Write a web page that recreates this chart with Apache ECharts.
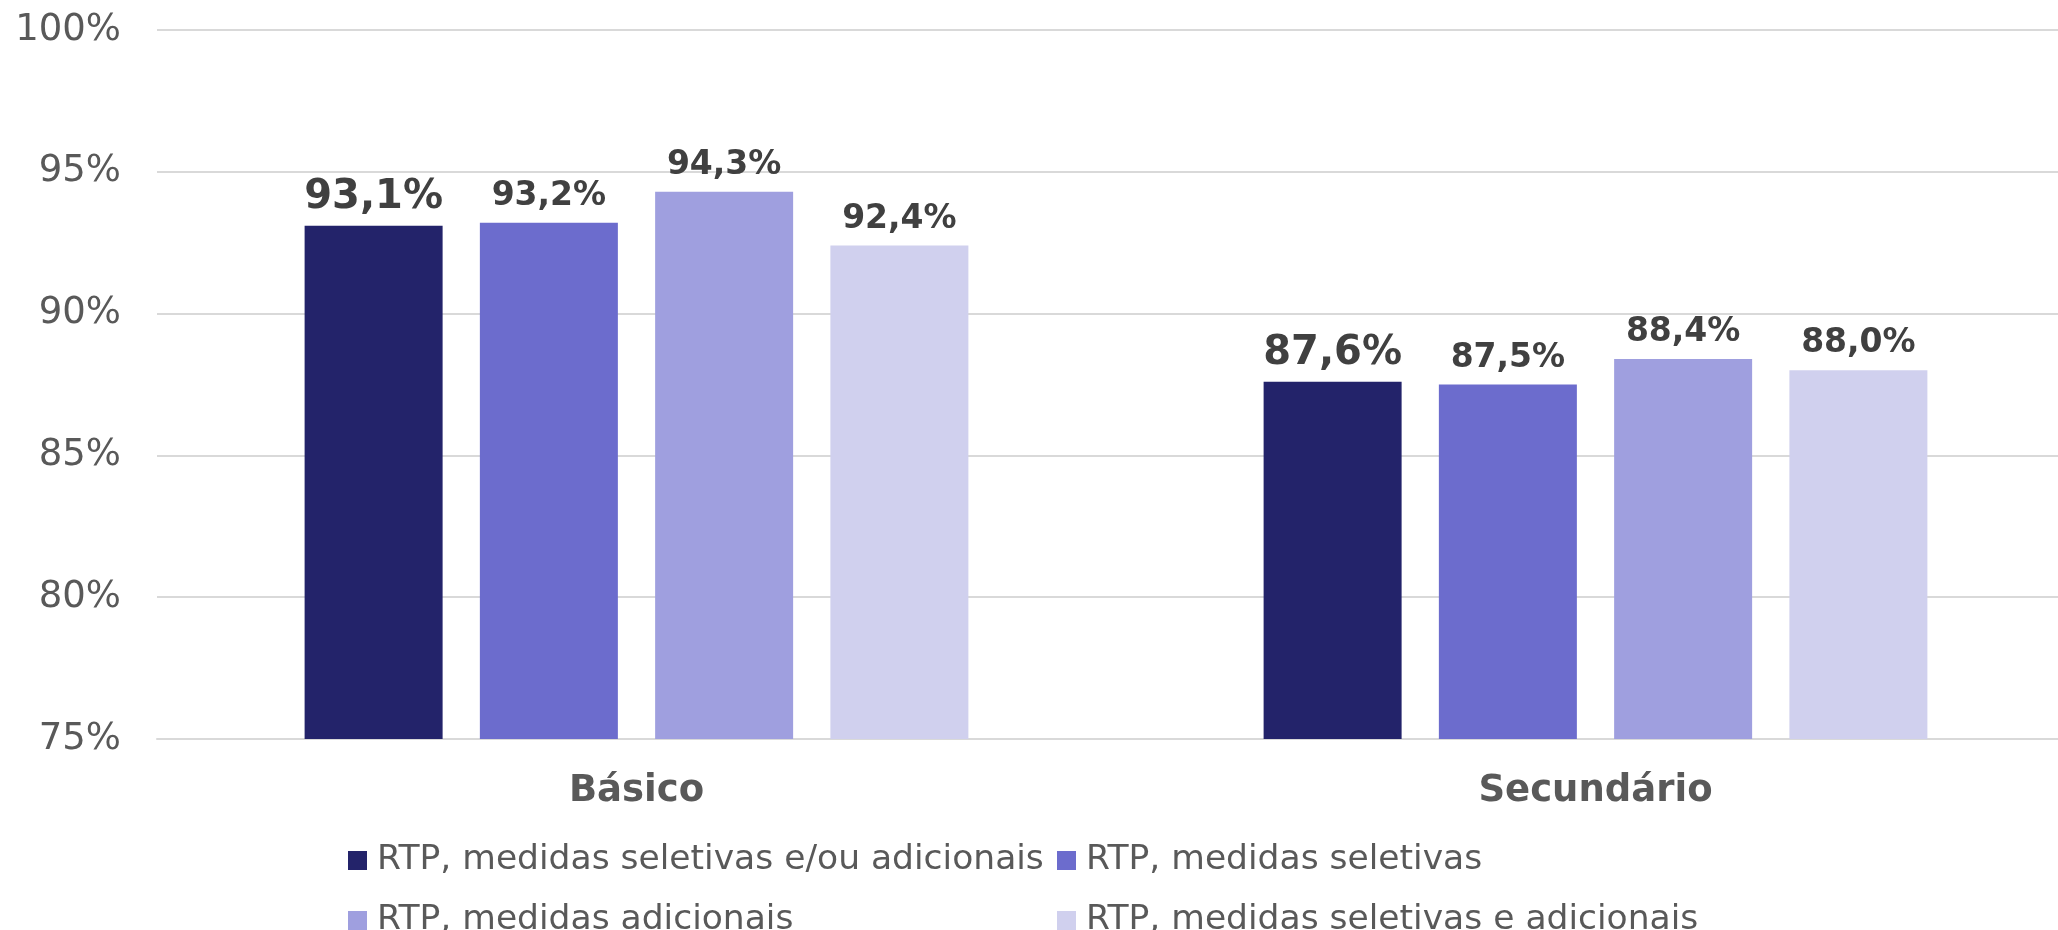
<!DOCTYPE html>
<html>
<head>
<meta charset="utf-8">
<script src="https://cdn.jsdelivr.net/npm/echarts@6/dist/echarts.min.js"></script>
<style>
  html, body { margin: 0; padding: 0; background: #fff; }
  #chart { width: 2058px; height: 930px; }
</style>
</head>
<body>
<div id="chart"></div>
<script>
// categorias e séries
var categories = ["Básico", "Secundário"];
var seriesNames = [
  "RTP, medidas seletivas e/ou adicionais",
  "RTP, medidas seletivas",
  "RTP, medidas adicionais",
  "RTP, medidas seletivas e adicionais"
];
var seletivasOuAdicionais = [93.1, 87.6];
var seletivas = [93.2, 87.5];
var adicionais = [94.3, 88.4];
var seletivasEAdicionais = [92.4, 88.0];
var yTicks = [75, 80, 85, 90, 95, 100];

var colors = ["#23236A", "#6C6CCD", "#9F9FDF", "#D0D0EE"];
var values = [seletivasOuAdicionais, seletivas, adicionais, seletivasEAdicionais];
var fontFamily = "DejaVu Sans";

function fmt(v) {
  return v.toFixed(1).replace(".", ",") + "%";
}

var chart = echarts.init(document.getElementById("chart"));

var series = seriesNames.map(function (name, i) {
  return {
    name: name,
    type: "bar",
    data: values[i],
    barWidth: 138,
    barGap: "27%",
    itemStyle: { color: colors[i] },
    label: {
      show: true,
      position: "top",
      distance: i === 0 ? 8 : 10,
      color: "#404040",
      fontFamily: fontFamily,
      fontWeight: "bold",
      fontSize: i === 0 ? 40 : 33,
      formatter: function (p) { return fmt(p.value); }
    }
  };
});

// legenda em 2 linhas x 2 colunas
var legendPos = [
  { left: 343, top: 838 },
  { left: 1052, top: 838 },
  { left: 343, top: 898 },
  { left: 1052, top: 898 }
];
var legends = seriesNames.map(function (name, i) {
  return {
    data: [name],
    left: legendPos[i].left,
    top: legendPos[i].top,
    itemWidth: 19,
    itemHeight: 19,
    icon: "rect",
    selectedMode: false,
    textStyle: {
      fontFamily: fontFamily,
      fontSize: 34.5,
      color: "#595959",
      padding: [0, 0, 0, 5]
    }
  };
});

var option = {
  animation: false,
  backgroundColor: "#fff",
  legend: legends,
  grid: {
    left: 157,
    width: 1918,
    top: 30,
    bottom: 930 - 739,
    outerBoundsMode: "none"
  },
  xAxis: {
    type: "category",
    data: categories,
    axisTick: { show: false },
    axisLine: { lineStyle: { color: "#d9d9d9", width: 2 } },
    axisLabel: {
      margin: 34,
      color: "#595959",
      fontFamily: fontFamily,
      fontWeight: "bold",
      fontSize: 37
    }
  },
  yAxis: {
    type: "value",
    min: yTicks[0],
    max: yTicks[yTicks.length - 1],
    interval: 5,
    axisLine: { show: false },
    axisTick: { show: false },
    splitLine: { lineStyle: { color: "#d9d9d9", width: 2 } },
    axisLabel: {
      margin: 36,
      color: "#595959",
      fontFamily: fontFamily,
      fontSize: 37,
      formatter: "{value}%"
    }
  },
  series: series
};

chart.setOption(option);
</script>
</body>
</html>
